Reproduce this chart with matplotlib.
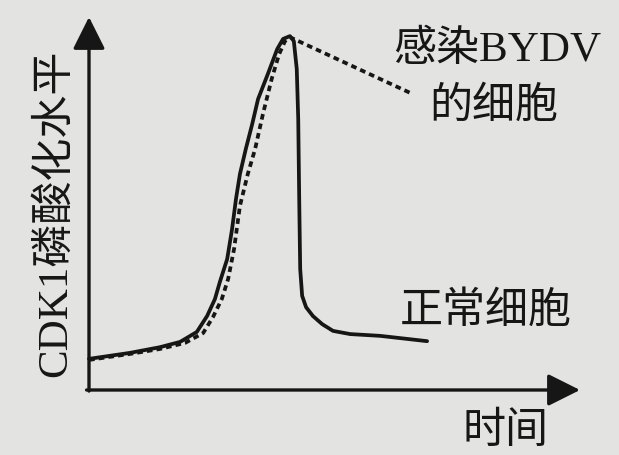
import matplotlib
matplotlib.use("Agg")
import matplotlib.pyplot as plt

# curve: time (a.u.) vs CDK1 phosphorylation level (a.u.)
normal_t = [0, 0.84, 1.45, 1.86, 2.20, 2.41, 2.57, 2.67, 2.82, 2.92, 3.00, 3.08, 3.20,
            3.33, 3.45, 3.65, 3.84, 3.96, 4.10, 4.18, 4.24, 4.27, 4.29, 4.31, 4.35, 4.43,
            4.57, 4.76, 4.98, 5.33, 5.94, 6.90]
normal_lv = [8.8, 10.5, 12.1, 13.6, 16.4, 20.9, 25.7, 30.5, 37.0, 45.5, 54.0, 61.0, 68.1,
             75.1, 82.2, 89.3, 96.3, 99.2, 100, 98.6, 90.7, 76.6, 54.0, 34.2, 26.6, 23.4,
             20.9, 18.6, 16.7, 15.8, 15.3, 13.8]

bydv_t = [0, 0.84, 1.45, 1.96, 2.33, 2.53, 2.71, 2.84, 2.96, 3.08, 3.24, 3.39, 3.55,
          3.73, 3.88, 4.00, 4.10, 6.61]
bydv_lv = [8.5, 10.2, 11.6, 13.3, 16.1, 20.6, 25.7, 31.4, 39.8, 52.0, 61.0, 68.1, 78.0,
           88.0, 94.9, 98.6, 99.7, 83.6]

ylabel = "CDK1磷酸化水平"
xlabel = "时间"
label_normal = "正常细胞"
label_bydv = ["感染BYDV", "的细胞"]

bg = "#e3e3e1"
ink = "#161616"
fam = ["Liberation Serif", "Noto Sans CJK SC"]
fs = 31

fig = plt.figure(figsize=(6.19, 4.56), dpi=100, facecolor=bg)
ax = fig.add_axes([89 / 619, 65 / 456, 490 / 619, 373 / 456])
ax.set_facecolor(bg)
ax.set_xlim(0, 10)
ax.set_ylim(0, 105.4)
for s in ax.spines.values():
    s.set_visible(False)
ax.set_xticks([])
ax.set_yticks([])

# axes as arrows
arrow = dict(arrowstyle="-|>,head_length=0.9,head_width=0.45", lw=2.4, color=ink,
             mutation_scale=22, shrinkA=0, shrinkB=0)
ax.annotate("", xy=(10.02, 0), xytext=(-0.05, 0), arrowprops=arrow, annotation_clip=False)
ax.annotate("", xy=(0, 105.4), xytext=(0, -0.3), arrowprops=arrow, annotation_clip=False)

ax.plot(normal_t, normal_lv, color=ink, lw=2.7, solid_capstyle="round",
        solid_joinstyle="round", clip_on=False)
ax.plot(bydv_t, bydv_lv, color=ink, lw=2.7, linestyle=(0, (1.5, 1.1)), clip_on=False)

ax.text(8.33, 96.3, label_bydv[0], family=fam, fontsize=fs, color=ink,
        ha="center", va="center")
ax.text(8.27, 80.2, label_bydv[1], family=fam, fontsize=fs, color=ink,
        ha="center", va="center")
ax.text(8.10, 22.3, label_normal, family=fam, fontsize=fs, color=ink,
        ha="center", va="center")
ax.text(8.51, -11.6, xlabel, family=fam, fontsize=fs, color=ink,
        ha="center", va="center", clip_on=False)
ax.text(-0.69, 50.3, ylabel, family=fam, fontsize=fs, color=ink, rotation=90,
        ha="center", va="center", clip_on=False)

fig.savefig("out.png", dpi=100, facecolor=bg)
